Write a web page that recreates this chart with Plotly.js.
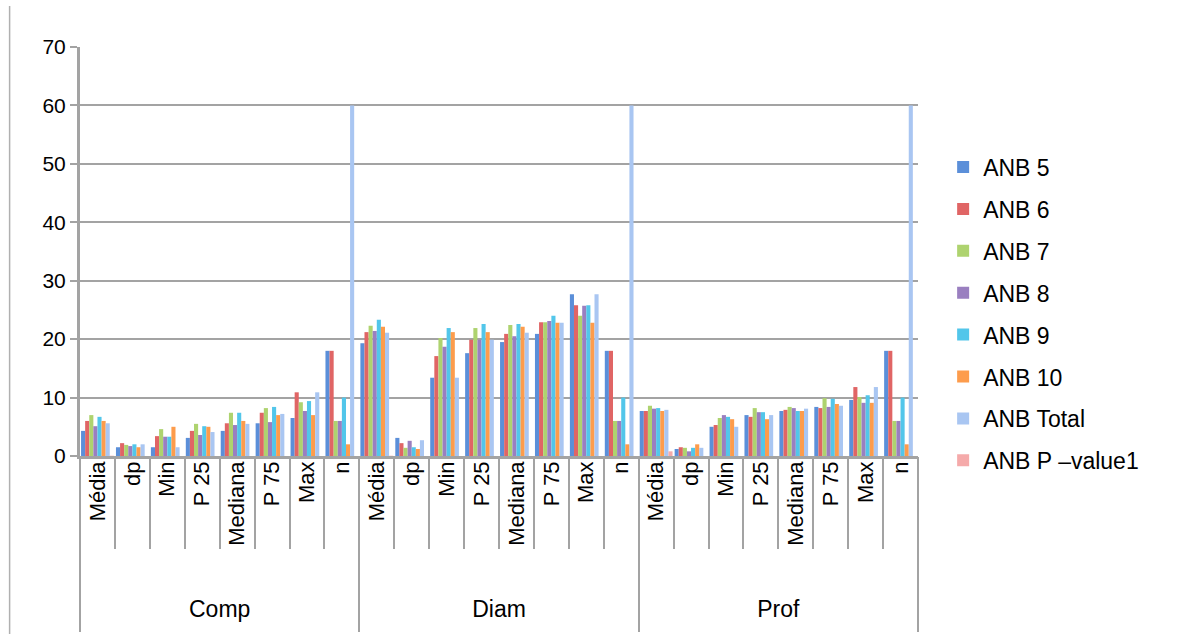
<!DOCTYPE html>
<html>
<head>
<meta charset="utf-8">
<script src="https://cdn.plot.ly/plotly-3.0.1.min.js"></script>
<style>html,body{margin:0;padding:0;background:#fff;}#chart{width:1189px;height:634px;}</style>
</head>
<body>
<div id="chart"></div>
<script>
const groups = ['Comp', 'Diam', 'Prof'];
const stats = ['Média', 'dp', 'Min', 'P 25', 'Mediana', 'P 75', 'Max', 'n'];
const seriesNames = ['ANB 5', 'ANB 6', 'ANB 7', 'ANB 8', 'ANB 9', 'ANB 10', 'ANB Total', 'ANB P –value1'];

const anb5 = [4.3, 1.5, 1.5, 3.1, 4.3, 5.6, 6.5, 18, 19.3, 3.1, 13.4, 17.6, 19.5, 20.9, 27.7, 18, 7.7, 1.2, 5.0, 7.0, 7.7, 8.4, 9.6, 18];
const anb6 = [6.0, 2.2, 3.4, 4.3, 5.6, 7.4, 10.9, 18, 21.2, 2.2, 17.1, 19.9, 20.9, 22.9, 25.8, 18, 7.7, 1.5, 5.3, 6.7, 7.9, 8.2, 11.8, 18];
const anb7 = [7.0, 1.9, 4.6, 5.5, 7.4, 8.2, 9.2, 6, 22.3, 1.4, 20.2, 21.9, 22.4, 22.9, 24.0, 6, 8.6, 1.4, 6.5, 8.2, 8.4, 9.9, 10.1, 6];
const anb8 = [5.1, 1.7, 3.3, 3.6, 5.3, 5.8, 7.7, 6, 21.4, 2.6, 18.7, 19.9, 20.5, 23.1, 25.7, 6, 8.1, 0.8, 7.0, 7.5, 8.2, 8.4, 9.1, 6];
const anb9 = [6.7, 2.0, 3.3, 5.1, 7.4, 8.4, 9.4, 10, 23.3, 1.5, 21.9, 22.6, 22.6, 24.0, 25.8, 10, 8.2, 1.4, 6.7, 7.5, 7.7, 9.8, 10.4, 10];
const anb10 = [6.0, 1.5, 5.0, 5.0, 6.0, 7.0, 7.0, 2, 22.1, 1.2, 21.2, 21.2, 22.1, 22.8, 22.8, 2, 7.7, 2.0, 6.3, 6.3, 7.7, 8.9, 9.1, 2];
const anbTotal = [5.6, 2.0, 1.5, 4.1, 5.5, 7.2, 10.9, 60, 21.1, 2.7, 13.4, 19.9, 21.1, 22.8, 27.7, 60, 7.9, 1.4, 5.0, 7.0, 8.1, 8.6, 11.8, 60];
const anbP = [0.05, null, null, null, null, null, null, null, 0.05, null, null, null, null, null, null, null, 0.8, null, null, null, null, null, null, null];

const colors = ['#5b8fd9', '#e06565', '#aed36f', '#9a7fc0', '#52c6ea', '#fd9c4c', '#a9c6f2', '#f5aaaa'];
const values = [anb5, anb6, anb7, anb8, anb9, anb10, anbTotal, anbP];

const xGroup = [], xStat = [];
groups.forEach(g => stats.forEach(s => { xGroup.push(g); xStat.push(s); }));

const fam = 'Liberation Sans, Arial, sans-serif';
const font = {family: fam, size: 21, color: '#000'};
const catFont = {family: fam, size: 22, color: '#000'};
const legFont = {family: fam, size: 23, color: '#000'};
const grey = '#a3a3a3';

const traces = values.map((v, i) => ({
  type: 'bar',
  name: seriesNames[i],
  x: [xGroup, xStat],
  y: v,
  legendgroup: 'g' + i,
  marker: {color: colors[i], line: {width: 0}},
  hoverinfo: 'x+y+name'
}));

// invisible helper traces so the label / separator axes are drawn
['x2', 'x3', 'x4', 'x5'].forEach(ax => traces.push({
  type: 'scatter', mode: 'markers', x: [null], y: [null], xaxis: ax, showlegend: false, hoverinfo: 'skip'
}));

const n = xStat.length;
const statPos = xStat.map((_, i) => i);
const sepVals = [];
for (let i = 0; i <= n; i++) sepVals.push(i - 0.5);
const groupSep = [];
for (let g = 0; g <= groups.length; g++) groupSep.push(g * stats.length - 0.5);
const groupPos = groups.map((_, g) => g * stats.length + (stats.length - 1) / 2);

const hidden = {overlaying: 'x', side: 'bottom', range: [-0.5, n - 0.5], showgrid: false,
                zeroline: false, showline: false, fixedrange: true};

const layout = {
  width: 1189, height: 634,
  margin: {l: 80, r: 271, t: 47, b: 178},
  paper_bgcolor: '#fff', plot_bgcolor: '#fff',
  font: font,
  barmode: 'group', bargap: 0.06, bargroupgap: 0,
  showlegend: true,
  legend: {x: 1.03, y: 0.759, xanchor: 'left', yanchor: 'top', font: legFont,
           tracegroupgap: 9, itemwidth: 30, bgcolor: 'rgba(0,0,0,0)'},
  yaxis: {range: [0, 70], dtick: 10, showgrid: true, gridcolor: grey, gridwidth: 2,
          showline: true, linecolor: grey, linewidth: 3, ticks: 'outside', ticklen: 7,
          tickcolor: grey, tickwidth: 2, zeroline: false, tickfont: font, fixedrange: true},
  xaxis: {type: 'multicategory', showticklabels: false, showline: true, linecolor: grey, linewidth: 3,
          ticks: '', showdividers: false, showgrid: false, zeroline: false, fixedrange: true},
  xaxis2: Object.assign({}, hidden, {tickvals: statPos, ticktext: xStat, tickangle: -90,
          ticks: '', tickfont: catFont}),
  xaxis3: Object.assign({}, hidden, {tickvals: sepVals, ticks: 'outside', ticklen: 92,
          tickcolor: grey, tickwidth: 2, showticklabels: false}),
  xaxis4: Object.assign({}, hidden, {tickvals: groupSep, ticks: 'outside', ticklen: 175,
          tickcolor: grey, tickwidth: 2, showticklabels: false}),
  xaxis5: Object.assign({}, hidden, {tickvals: groupPos, ticktext: groups, ticks: '',
          ticklabelstandoff: 137, tickfont: legFont}),
  shapes: [
    {type: 'line', xref: 'paper', yref: 'paper', x0: -0.084, x1: -0.084, y0: -0.45, y1: 1.1,
     line: {color: '#b0b0b0', width: 1.5}}
  ]
};

Plotly.newPlot('chart', traces, layout, {displayModeBar: false, staticPlot: true});
</script>
</body>
</html>
